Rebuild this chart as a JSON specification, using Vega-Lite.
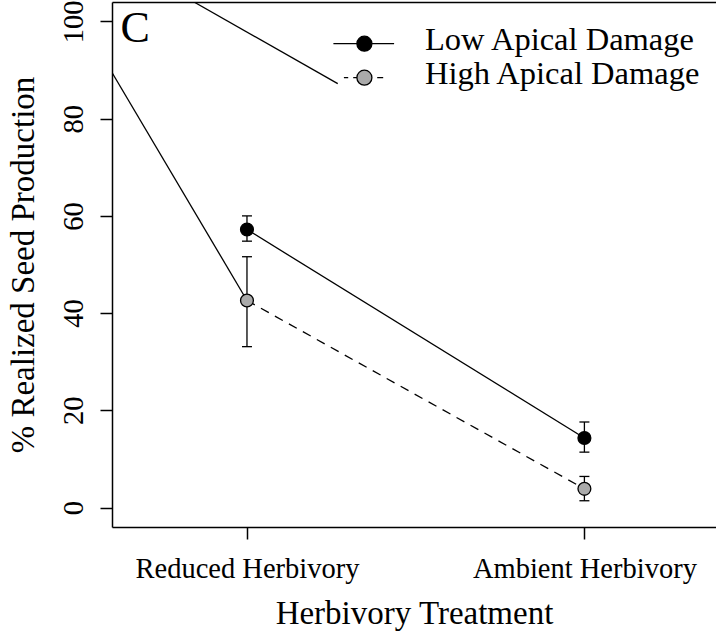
{
  "$schema": "https://vega.github.io/schema/vega-lite/v6.json",
  "width": 604,
  "height": 525,
  "autosize": "none",
  "padding": {"left": 112, "top": 2, "right": 0, "bottom": 110},
  "title": {"text": "C", "anchor": "start", "frame": "group", "orient": "top", "baseline": "alphabetic", "offset": -40, "dy": 46, "dx": 8.5, "fontSize": 44, "font": "Liberation Serif", "fontWeight": "normal", "color": "black"},
  "datasets": {
    "means": [
      {"treatment": "Reduced Herbivory", "pos": 1, "damage": "Low Apical Damage", "value": 57.2, "lo": 54.8, "hi": 60.0},
      {"treatment": "Ambient Herbivory", "pos": 2, "damage": "Low Apical Damage", "value": 14.3, "lo": 11.4, "hi": 17.6},
      {"treatment": "Reduced Herbivory", "pos": 1, "damage": "High Apical Damage", "value": 42.6, "lo": 33.1, "hi": 51.6},
      {"treatment": "Ambient Herbivory", "pos": 2, "damage": "High Apical Damage", "value": 3.85, "lo": 1.4, "hi": 6.4}
    ],
    "stray": [
      {"segment": "a", "pos": 0.6, "value": 89.5},
      {"segment": "a", "pos": 1, "value": 42.6},
      {"segment": "b", "pos": 0.843, "value": 104},
      {"segment": "b", "pos": 1.269, "value": 87.2}
    ]
  },
  "layer": [
    {
      "data": {"name": "stray"},
      "mark": {"type": "line", "color": "black", "strokeWidth": 1.3, "clip": true},
      "encoding": {
        "x": {"field": "pos", "type": "quantitative", "scale": {"domain": [0.6, 2.39], "nice": false, "zero": false}, "axis": {"orient": "top", "ticks": false, "labels": false, "title": null, "domain": true}},
        "y": {"field": "value", "type": "quantitative", "scale": {"domain": [-4, 104], "nice": false, "zero": false}, "axis": {"title": "% Realized Seed Production", "values": [0, 20, 40, 60, 80, 100]}},
        "detail": {"field": "segment"}
      }
    },
    {
      "data": {"name": "means"},
      "transform": [{"filter": "datum.damage === 'Low Apical Damage'"}],
      "mark": {"type": "line", "color": "black", "strokeWidth": 1.3},
      "encoding": {
        "x": {"field": "pos", "type": "quantitative", "scale": {"domain": [0.6, 2.39], "nice": false, "zero": false}, "axis": {"orient": "bottom", "title": "Herbivory Treatment", "values": [1, 2], "labelExpr": "datum.value === 1 ? 'Reduced Herbivory' : 'Ambient Herbivory'"}},
        "y": {"field": "value", "type": "quantitative", "axis": {"title": "% Realized Seed Production", "values": [0, 20, 40, 60, 80, 100]}}
      }
    },
    {
      "data": {"name": "means"},
      "transform": [{"filter": "datum.damage === 'High Apical Damage'"}],
      "mark": {"type": "line", "color": "black", "strokeWidth": 1.3, "strokeDash": [9, 7]},
      "encoding": {
        "x": {"field": "pos", "type": "quantitative", "axis": null},
        "y": {"field": "value", "type": "quantitative", "axis": {"title": "% Realized Seed Production", "values": [0, 20, 40, 60, 80, 100]}}
      }
    },
    {
      "data": {"name": "means"},
      "mark": {"type": "rule", "color": "black", "strokeWidth": 1.3},
      "encoding": {
        "x": {"field": "pos", "type": "quantitative", "axis": null},
        "y": {"field": "lo", "type": "quantitative", "axis": {"title": "% Realized Seed Production", "values": [0, 20, 40, 60, 80, 100]}},
        "y2": {"field": "hi"}
      }
    },
    {
      "data": {"name": "means"},
      "mark": {"type": "tick", "orient": "horizontal", "size": 10, "thickness": 1.3, "color": "black", "opacity": 1},
      "encoding": {
        "x": {"field": "pos", "type": "quantitative", "axis": null},
        "y": {"field": "lo", "type": "quantitative", "axis": {"title": "% Realized Seed Production", "values": [0, 20, 40, 60, 80, 100]}}
      }
    },
    {
      "data": {"name": "means"},
      "mark": {"type": "tick", "orient": "horizontal", "size": 10, "thickness": 1.3, "color": "black", "opacity": 1},
      "encoding": {
        "x": {"field": "pos", "type": "quantitative", "axis": null},
        "y": {"field": "hi", "type": "quantitative", "axis": {"title": "% Realized Seed Production", "values": [0, 20, 40, 60, 80, 100]}}
      }
    },
    {
      "data": {"name": "means"},
      "mark": {"type": "point", "filled": true, "stroke": "black", "strokeWidth": 1.3, "size": 165, "opacity": 1},
      "encoding": {
        "x": {"field": "pos", "type": "quantitative", "axis": null},
        "y": {"field": "value", "type": "quantitative", "axis": {"title": "% Realized Seed Production", "values": [0, 20, 40, 60, 80, 100]}},
        "fill": {
          "field": "damage", "type": "nominal",
          "scale": {"domain": ["Low Apical Damage", "High Apical Damage"], "range": ["#000000", "#aaaaaa"]},
          "legend": {
            "orient": "none", "legendX": 231.4, "legendY": 20.7, "title": null, "padding": 0,
            "symbolSize": 1600, "symbolStrokeWidth": 1.3, "symbolStrokeColor": "black",
            "labelFontSize": 32.5, "labelFont": "Liberation Serif", "labelColor": "black",
            "labelOffset": 39.6, "rowPadding": -1.7, "labelLimit": 400, "labelBaseline": "alphabetic",
            "encoding": {
              "symbols": {
                "shape": {"value": {"expr": "datum.value === 'High Apical Damage' ? 'M-1.025,0H-0.81M-0.56,0H-0.375M0.64,0H0.94M-0.375,0A0.375,0.375,0,1,1,0.375,0A0.375,0.375,0,1,1,-0.375,0Z' : 'M-1.55,0H-0.375M0.375,0H1.485M-0.375,0A0.375,0.375,0,1,1,0.375,0A0.375,0.375,0,1,1,-0.375,0Z'"}},
                "size": {"value": 1600},
                "stroke": {"value": "black"},
                "strokeWidth": {"value": 1.3},
                "opacity": {"value": 1}
              },
              "labels": {"dy": {"value": 6.5}}
            }
          }
        }
      }
    }
  ],
  "resolve": {"axis": {"x": "independent"}},
  "config": {
    "font": "Liberation Serif",
    "view": {"stroke": null},
    "axis": {"grid": false, "domainColor": "black", "tickColor": "black", "labelColor": "black", "titleColor": "black", "domainWidth": 1.5, "tickWidth": 1.5, "titleFontWeight": "normal", "labelFont": "Liberation Serif", "titleFont": "Liberation Serif"},
    "axisX": {"tickSize": 12, "labelPadding": 38, "labelBaseline": "alphabetic", "labelFontSize": 28.5, "titleFontSize": 33, "titleBaseline": "alphabetic", "titleY": 96, "labelFlush": false, "labelOverlap": false, "labelAngle": 0, "labelLimit": 400},
    "axisY": {"tickSize": 12, "labelPadding": 18, "labelAngle": 270, "labelAlign": "center", "labelBaseline": "alphabetic", "labelFontSize": 28.5, "titleFontSize": 33, "titleAngle": 270, "titleBaseline": "alphabetic", "titleAlign": "center", "titleX": -79, "titleY": 262.5, "labelOverlap": false}
  }
}
